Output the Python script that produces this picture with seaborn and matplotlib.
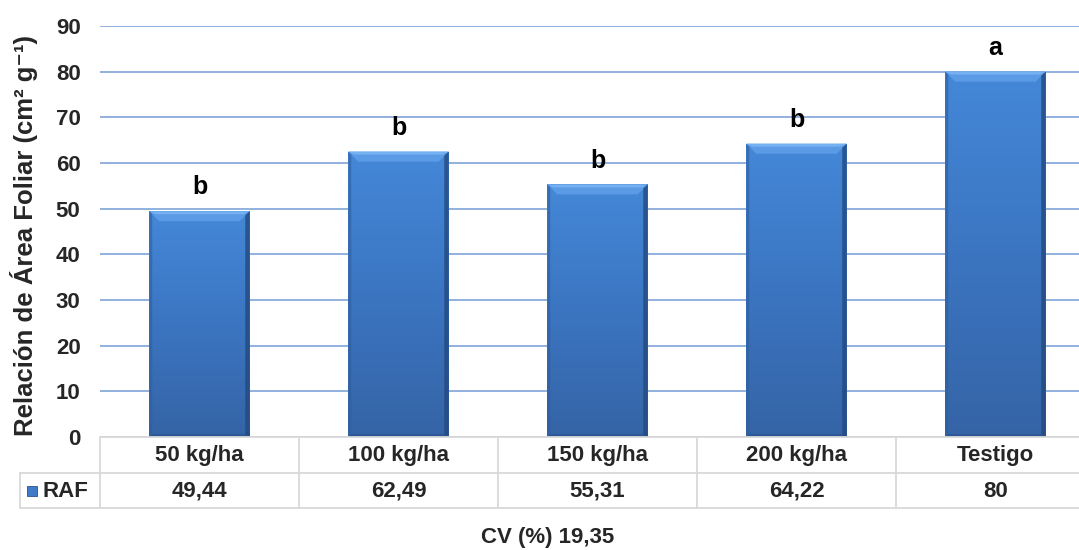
import numpy as np
import pandas as pd
import matplotlib
matplotlib.use("Agg")
import matplotlib.pyplot as plt
from matplotlib.colors import LinearSegmentedColormap
from matplotlib.lines import Line2D
from matplotlib.patches import Polygon, Rectangle
import seaborn as sns

categories = ["50 kg/ha", "100 kg/ha", "150 kg/ha", "200 kg/ha", "Testigo"]
raf_values = [49.44, 62.49, 55.31, 64.22, 80]
value_labels = ["49,44", "62,49", "55,31", "64,22", "80"]
letters = ["b", "b", "b", "b", "a"]
series_name = "RAF"
cv_text = "CV (%) 19,35"
y_ticks = [0, 10, 20, 30, 40, 50, 60, 70, 80, 90]

sns.set_theme(style="white")
plt.rcParams['font.family'] = ['Liberation Sans', 'DejaVu Sans']
plt.rcParams['font.weight'] = 'bold'

W, H = 1079, 550
fig = plt.figure(figsize=(W / 100, H / 100), dpi=100)
x0, x1 = 100, 1095
ytop, ybot = 26, 437
ax = fig.add_axes([x0 / W, 1 - ybot / H, (x1 - x0) / W, (ybot - ytop) / H])

df = pd.DataFrame({"cat": categories, "val": raf_values})
sns.barplot(data=df, x="cat", y="val", ax=ax, color="#3b7bcb", width=0.505,
            edgecolor="none", zorder=3)

ax.set_ylim(0, 90)
ax.set_xlim(-0.5, len(categories) - 0.5)
ax.set_yticks(y_ticks)
ax.set_yticklabels([str(t) for t in y_ticks], fontsize=16, fontweight='bold')
ax.tick_params(axis='y', length=0, pad=14)
ax.set_xticks([])
ax.set_xlabel("")
ax.set_ylabel("")
for s in ax.spines.values():
    s.set_visible(False)
for t in y_ticks:
    ax.axhline(t, color="#739bd3", lw=1.1, zorder=1)

ppx = (x1 - x0) / len(categories)   # px per x unit
ppy = (ybot - ytop) / 90.0          # px per y unit

# bar shading (vertical gradient + bevels)
cmap = LinearSegmentedColormap.from_list("body", ["#3564a6", "#3b75c1", "#4488d8"])
grad = np.linspace(0, 1, 256).reshape(-1, 1)
for p, v, let in zip(ax.patches, raf_values, letters):
    bx, bw = p.get_x(), p.get_width()
    im = ax.imshow(grad, extent=[bx, bx + bw, 0, v], aspect='auto', cmap=cmap,
                   origin='lower', zorder=4, interpolation='bilinear',
                   vmin=0, vmax=1)
    im.set_clip_path(p)
    bh = 10 / ppy
    bi = 10 / ppx
    sw = 3 / ppx
    # top bevel
    ax.add_patch(Polygon([(bx, v), (bx + bw, v), (bx + bw - bi, v - bh), (bx + bi, v - bh)],
                         closed=True, facecolor="#5b9be6", edgecolor="none", zorder=5))
    ax.add_patch(Polygon([(bx, v), (bx + bw, v), (bx + bw - 2 * sw, v - 3 / ppy), (bx + 2 * sw, v - 3 / ppy)],
                         closed=True, facecolor="#75b0f0", edgecolor="none", zorder=5))
    # left side
    ax.add_patch(Polygon([(bx, 0), (bx, v), (bx + sw, v - 3 / ppy), (bx + sw, 0)],
                         closed=True, facecolor="#2f5e9e", alpha=0.6, edgecolor="none", zorder=5))
    # right side
    ax.add_patch(Polygon([(bx + bw, 0), (bx + bw, v), (bx + bw - 1.5 * sw, v - 4 / ppy), (bx + bw - 1.5 * sw, 0)],
                         closed=True, facecolor="#23497f", alpha=0.8, edgecolor="none", zorder=5))
    # bottom
    ax.add_patch(Polygon([(bx, 0), (bx + bw, 0), (bx + bw - sw, 3 / ppy), (bx + sw, 3 / ppy)],
                         closed=True, facecolor="#2a5290", alpha=0.7, edgecolor="none", zorder=5))
    ax.text(bx + bw / 2, v + 2.6, let, ha='center', va='bottom', fontsize=18,
            fontweight='bold', color='black')

def fx(px):
    return px / W

def fy(py):
    return 1 - py / H

# y axis title
fig.text(fx(24), fy(235), "Relación de Área Foliar (cm² g⁻¹)", rotation=90,
         ha='center', va='center', fontsize=18.5, fontweight='bold')

# data table
gcol = "#d9d9d9"
r0, r1, r2 = 437, 473, 508
colw = (x1 - x0) / len(categories)
segs = [
    ((x0, x1), (r0, r0)),
    ((20, x1), (r1, r1)),
    ((20, x1), (r2, r2)),
    ((20, 20), (r1, r2)),
]
for i in range(len(categories) + 1):
    xx = x0 + i * colw
    segs.append(((xx, xx), (r0, r2)))
for (xs, ys) in segs:
    fig.add_artist(Line2D([fx(xs[0]), fx(xs[1])], [fy(ys[0]), fy(ys[1])],
                          color=gcol, lw=1.3, transform=fig.transFigure))

for i, (c, vl) in enumerate(zip(categories, value_labels)):
    cx = x0 + (i + 0.5) * colw
    fig.text(fx(cx), fy((r0 + r1) / 2 + 1), c, ha='center', va='center', fontsize=16, fontweight='bold')
    fig.text(fx(cx), fy((r1 + r2) / 2 + 1), vl, ha='center', va='center', fontsize=16, fontweight='bold')

# legend key
fig.add_artist(Rectangle((fx(27), fy(496)), 10 / W, 10 / H, facecolor="#3f7bc6",
                         edgecolor="#2a5290", lw=0.6, transform=fig.transFigure))
fig.text(fx(43), fy((r1 + r2) / 2 + 1), series_name, ha='left', va='center', fontsize=16, fontweight='bold')

fig.text(fx(548), fy(538), cv_text, ha='center', va='center', fontsize=16, fontweight='bold')

fig.savefig("out.png", dpi=100)
